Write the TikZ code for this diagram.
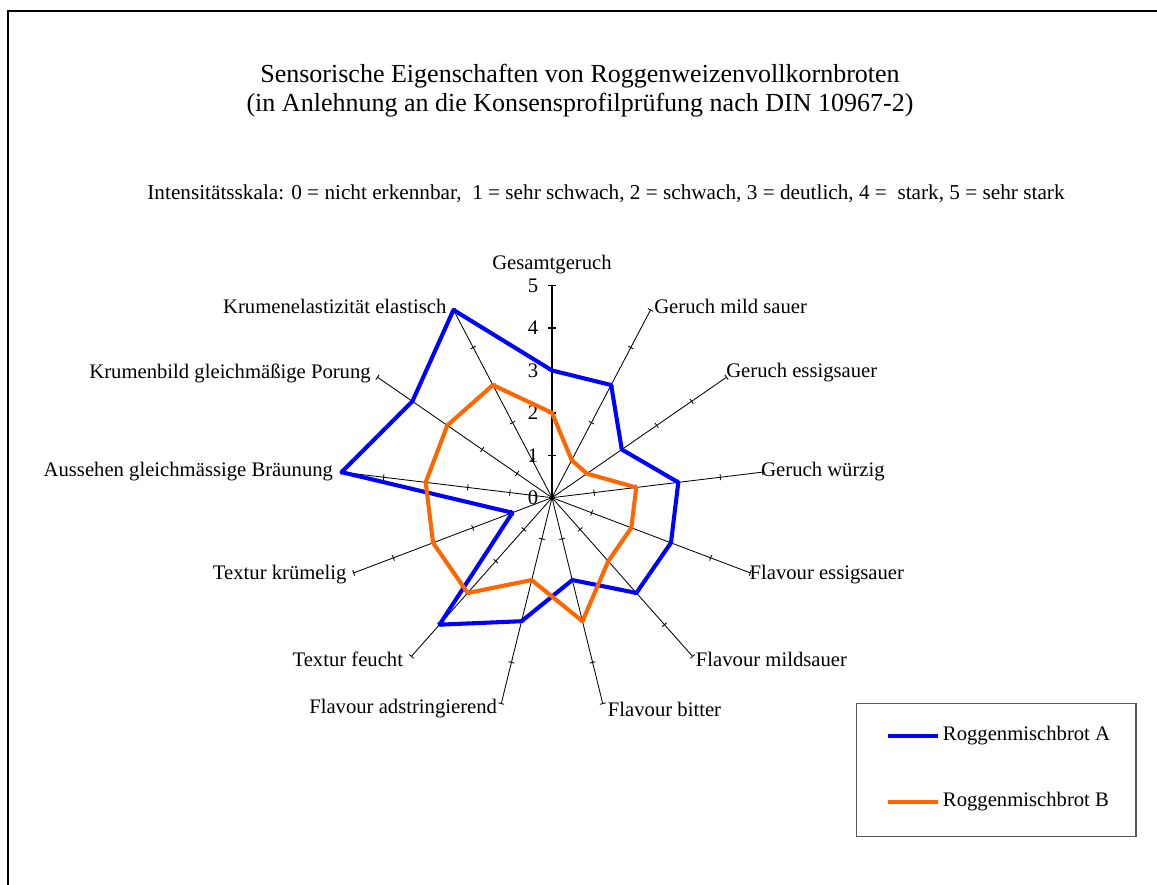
\documentclass[tikz,border=0pt]{standalone}
\usepackage{fontspec}
\setmainfont{Liberation Serif}
\usetikzlibrary{positioning}
\definecolor{serieblau}{RGB}{0,0,255}
\definecolor{serieorange}{RGB}{255,102,0}
\tikzset{
  lbl/.style={font=\fontsize{14.7}{16}\selectfont, inner sep=0pt},
  titel/.style={font=\fontsize{18.5}{20.6}\selectfont, inner sep=0pt, align=center},
  spoke/.style={black, line width=0.6pt},
  hauptachse/.style={black, line width=1.1pt},
  serieA/.style={serieblau, line width=2.9pt, line join=round},
  serieB/.style={serieorange, line width=2.9pt, line join=round},
  rahmen/.style={black, line width=1.6pt},
  legendbox/.style={draw=black!65, line width=1pt}
}

\begin{document}
\begin{tikzpicture}[x=0.025cm, y=0.025cm]
  \useasboundingbox (0,0) rectangle (1157,885);
  \draw[rahmen] (8,-5) -- (8,874) -- (1165,874);

  \node[titel] (titel) at (580,794.5) {Sensorische Eigenschaften von Roggenweizenvollkornbroten\\(in Anlehnung an die Konsensprofilprüfung nach DIN 10967-2)};
  \node[lbl, font=\fontsize{15.1}{16}\selectfont] (skala) at (606,691) {Intensitätsskala: 0 = nicht erkennbar,\ \ 1 = sehr schwach, 2 = schwach, 3 = deutlich, 4 =\ \ stark, 5 = sehr stark};

  \begin{scope}[shift={(552,387.3)}, x=1.06cm, y=1.06cm]
    % Achsen mit Teilstrichen
    \foreach \k in {1,...,12} {
      \pgfmathsetmacro{\a}{90-\k*360/13}
      \draw[spoke] (0,0) -- (\a:5);
      \foreach \r in {1,...,5}
        \draw[spoke, rotate=\a] (\r,-0.07) -- (\r,0.07);
    }
    \draw[hauptachse] (0,0) -- (0,5);
    \foreach \r in {1,...,5}
      \draw[hauptachse] (-0.085,\r) -- (0.085,\r);
    \foreach \r in {0,...,5}
      \node[lbl] (wert\r) at (-0.45,\r) {\r};
    \fill (0,0) circle (0.05);

    % Roggenmischbrot A
    \draw[serieA] (90:3) -- (62.31:3) -- (34.62:2) -- (6.92:3) -- (-20.77:3) -- (-48.46:3) -- (-76.15:2)
      -- (-103.85:3) -- (-131.54:4) -- (-159.23:1) -- (-186.92:5) -- (-214.62:4) -- (-242.31:5) -- cycle;
    % Roggenmischbrot B
    \draw[serieB] (90:2) -- (62.31:1) -- (34.62:1) -- (6.92:2) -- (-20.77:2) -- (-48.46:2) -- (-76.15:3)
      -- (-103.85:2) -- (-131.54:3) -- (-159.23:3) -- (-186.92:3) -- (-214.62:3) -- (-242.31:3) -- cycle;
  \end{scope}

  \node[lbl] (gesamt) at (552,620) {Gesamtgeruch};
  \node[lbl, anchor=west] (mildsauer) at (654,579) {Geruch mild sauer};
  \node[lbl, anchor=west] (essig) at (726,512) {Geruch essigsauer};
  \node[lbl, anchor=west] (wuerzig) at (761,413.3) {Geruch würzig};
  \node[lbl, anchor=west] (flessig) at (749.3,310) {Flavour essigsauer};
  \node[lbl, anchor=west] (flmild) at (695.7,225.7) {Flavour mildsauer};
  \node[lbl, anchor=west] (bitter) at (607.7,175.7) {Flavour bitter};
  \node[lbl, anchor=east] (adstr) at (497.3,176) {Flavour adstringierend};
  \node[lbl, anchor=east] (feucht) at (403.3,225.7) {Textur feucht};
  \node[lbl, anchor=east] (kruemel) at (346.7,310) {Textur krümelig};
  \node[lbl, anchor=east] (braeunung) at (333.3,413.3) {Aussehen gleichmässige Bräunung};
  \node[lbl, anchor=east] (porung) at (371,511.7) {Krumenbild gleichmäßige Porung};
  \node[lbl, anchor=east] (elastisch) at (446.7,579) {Krumenelastizität elastisch};

  % Legende
  \draw[legendbox] (856.7,48.3) rectangle (1136,181.7);
  \node[lbl, anchor=west] (legA) at (942.7,149) {Roggenmischbrot A};
  \node[lbl, anchor=west] (legB) at (942.7,83) {Roggenmischbrot B};
  \draw[serieA] (888,149) -- (938,149);
  \draw[serieB] (888,83) -- (938,83);
\end{tikzpicture}
\end{document}
